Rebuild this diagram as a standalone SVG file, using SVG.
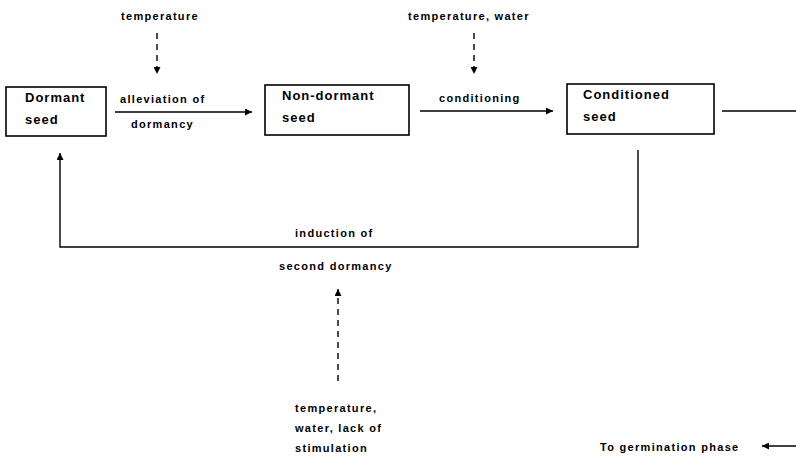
<svg xmlns="http://www.w3.org/2000/svg" width="796" height="456" viewBox="0 0 796 456">
<defs>
<style>
.box{fill:#fff;stroke:#000;stroke-width:1.6}
.nt{font-family:"Liberation Sans",Arial,sans-serif;font-weight:bold;font-size:13px;letter-spacing:1px;fill:#000}
.lb{font-family:"Liberation Sans",Arial,sans-serif;font-weight:bold;font-size:11px;letter-spacing:1.3px;fill:#000}
.ln{fill:none;stroke:#000;stroke-width:1.4}
.ds{fill:none;stroke:#000;stroke-width:1.4;stroke-dasharray:6,5}
</style>
<marker id="ah" viewBox="0 0 10 10" refX="10" refY="5" markerWidth="7" markerHeight="7" markerUnits="userSpaceOnUse" orient="auto">
<path d="M0,0 L10,5 L0,10 z" fill="#000"/>
</marker>
</defs>
<rect width="796" height="456" fill="#fff"/>
<g id="connectors">
<line class="ln" x1="115" y1="112" x2="252" y2="112" marker-end="url(#ah)"/>
<line class="ln" x1="420" y1="111" x2="553" y2="111" marker-end="url(#ah)"/>
<line class="ln" x1="722" y1="111" x2="796" y2="111"/>
<line class="ds" x1="157" y1="33" x2="157" y2="74" marker-end="url(#ah)"/>
<line class="ds" x1="474" y1="33" x2="474" y2="74" marker-end="url(#ah)"/>
<polyline class="ln" points="638,150 638,247 60,247 60,153" marker-end="url(#ah)"/>
<line class="ds" x1="338" y1="381" x2="338" y2="289" marker-end="url(#ah)"/>
<line class="ln" x1="796" y1="446" x2="762" y2="446" marker-end="url(#ah)"/>
</g>
<g id="dormant">
<rect class="box" x="6" y="87" width="100" height="49"/>
<text class="nt" x="25" y="102">Dormant</text>
<text class="nt" x="25" y="124">seed</text>
</g>
<g id="nondormant">
<rect class="box" x="265" y="85" width="144" height="50"/>
<text class="nt" x="282" y="100">Non-dormant</text>
<text class="nt" x="282" y="122">seed</text>
</g>
<g id="conditioned">
<rect class="box" x="567" y="84" width="147" height="50"/>
<text class="nt" x="583" y="99">Conditioned</text>
<text class="nt" x="583" y="121">seed</text>
</g>
<g id="labels">
<text class="lb" x="121" y="20">temperature</text>
<text class="lb" x="408" y="20">temperature, water</text>
<text class="lb" x="120" y="103">alleviation of</text>
<text class="lb" x="131" y="128">dormancy</text>
<text class="lb" x="439" y="102">conditioning</text>
<text class="lb" x="295" y="237">induction of</text>
<text class="lb" x="279" y="270">second dormancy</text>
<text class="lb" x="295" y="412">temperature,</text>
<text class="lb" x="295" y="432">water, lack of</text>
<text class="lb" x="295" y="452">stimulation</text>
<text class="lb" x="600" y="451">To germination phase</text>
</g>
</svg>
